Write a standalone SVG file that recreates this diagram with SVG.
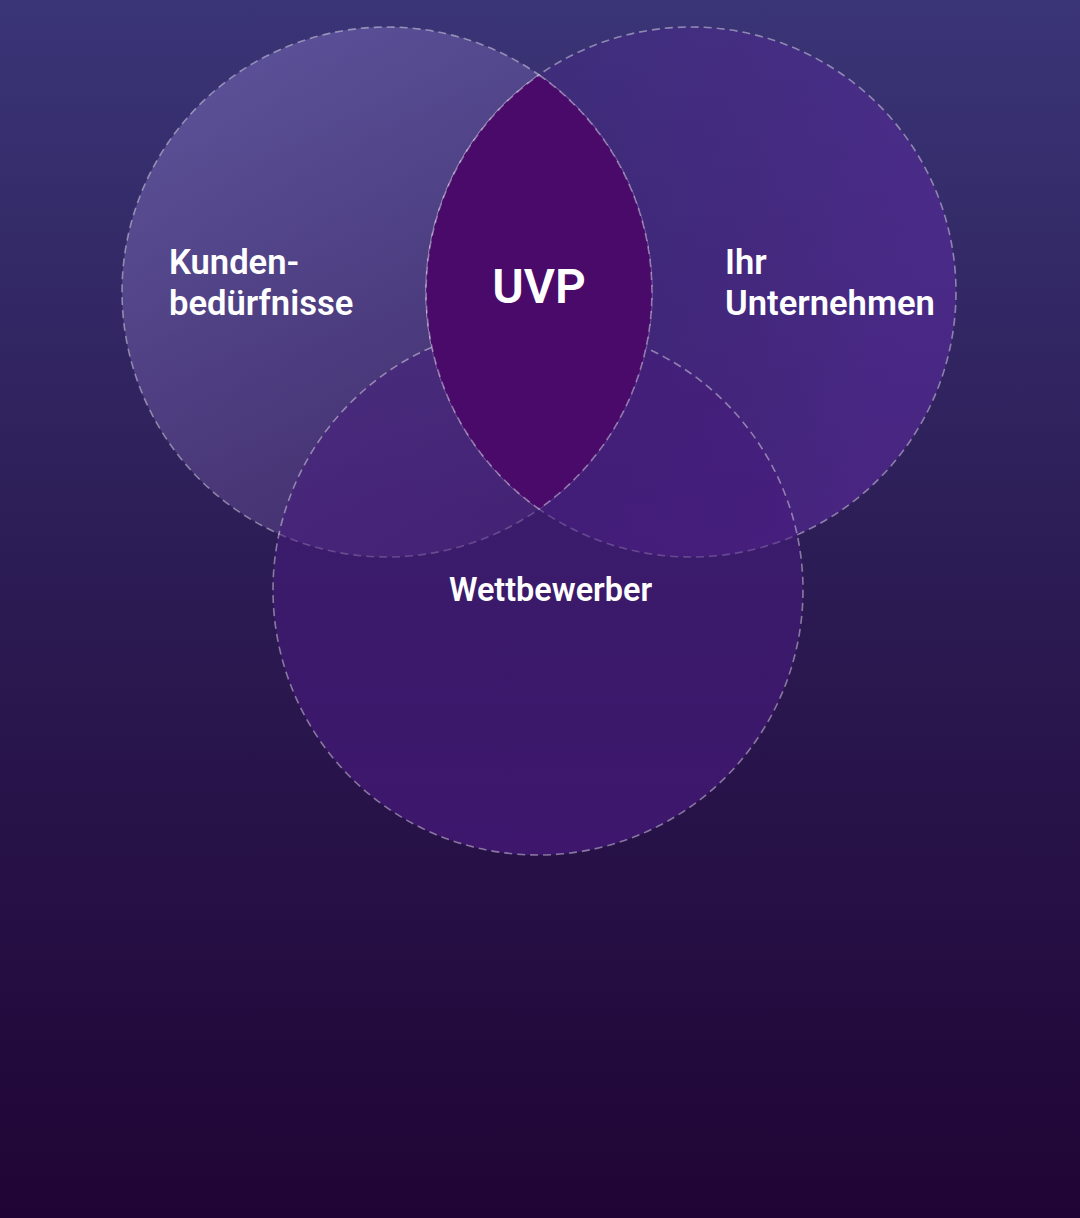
<svg xmlns="http://www.w3.org/2000/svg" width="1080" height="1218" viewBox="0 0 1080 1218">
<defs>
<linearGradient id="bg" x1="0" y1="0" x2="0" y2="1">
<stop offset="0" stop-color="#3a3577"/>
<stop offset="0.5" stop-color="#2b1a52"/>
<stop offset="1" stop-color="#200435"/>
</linearGradient>
<linearGradient id="gL" x1="0.15" y1="0.15" x2="0.85" y2="0.85">
<stop offset="0" stop-color="#9280d0" stop-opacity="0.38"/>
<stop offset="1" stop-color="#6a4c9a" stop-opacity="0.32"/>
</linearGradient>
<linearGradient id="gR" x1="0.1" y1="0.3" x2="0.9" y2="0.6">
<stop offset="0" stop-color="#4a2488" stop-opacity="0.35"/>
<stop offset="1" stop-color="#5a2a9e" stop-opacity="0.58"/>
</linearGradient>
<linearGradient id="gB" x1="0" y1="0" x2="0" y2="1">
<stop offset="0" stop-color="#45197a" stop-opacity="0.45"/>
<stop offset="1" stop-color="#4a1a82" stop-opacity="0.65"/>
</linearGradient>
<style>
.ring{stroke:#ffffff;stroke-opacity:0.42;stroke-width:1.6;stroke-dasharray:8 5}
.lbl{font-family:Roboto,"Liberation Sans",sans-serif;font-weight:600;fill:#ffffff}
</style>
</defs>
<rect width="1080" height="1218" fill="url(#bg)"/>
<g id="kunden">
<circle cx="387" cy="292" r="265" fill="url(#gL)" class="ring"/>
</g>
<g id="unternehmen">
<circle cx="691" cy="292" r="265" fill="url(#gR)" class="ring"/>
</g>
<g id="wettbewerber">
<circle cx="538" cy="590" r="265" fill="url(#gB)" class="ring"/>
</g>
<g id="uvp">
<path d="M539,75 A265,265 0 0 1 539,509 A265,265 0 0 1 539,75 Z" fill="#4a0a6a"/>
<path d="M539,75 A265,265 0 0 1 539,509 A265,265 0 0 1 539,75 Z" fill="none" class="ring"/>
<text x="539" y="303" text-anchor="middle" class="lbl" font-size="48">UVP</text>
</g>
<g id="labels">
<text class="lbl" font-size="34.6"><tspan x="169" y="274">Kunden-</tspan><tspan x="169" y="315">bedürfnisse</tspan></text>
<text class="lbl" font-size="34.6"><tspan x="725" y="274">Ihr</tspan><tspan x="725" y="315">Unternehmen</tspan></text>
<text x="550.5" y="601" text-anchor="middle" class="lbl" font-size="32.4">Wettbewerber</text>
</g>
<g id="connectors"/>
</svg>
